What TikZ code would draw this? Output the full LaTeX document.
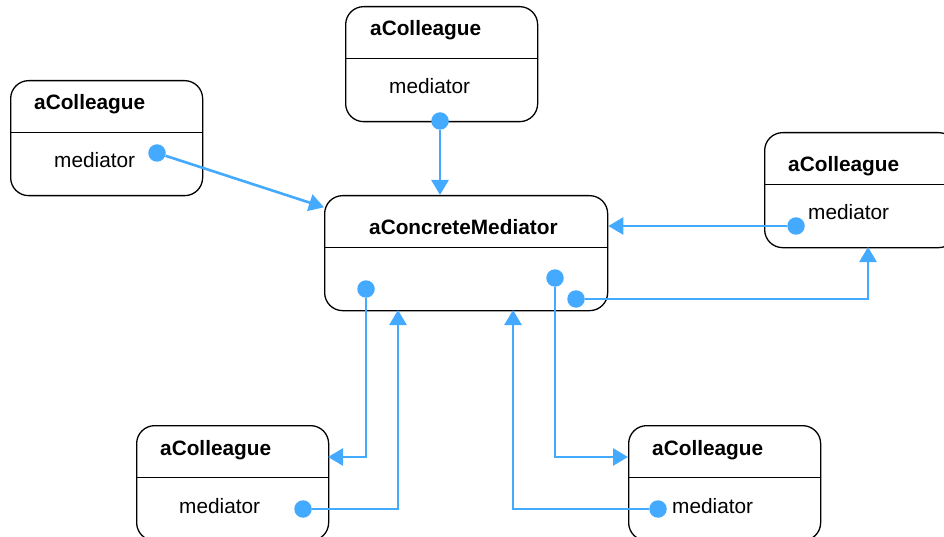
\documentclass[tikz,border=0pt]{standalone}
\usepackage{fontspec}
\setmainfont{Liberation Sans}
\usetikzlibrary{arrows.meta}
\definecolor{linkblue}{RGB}{68,170,255}
\begin{document}
\begin{tikzpicture}[x=1pt,y=-1pt,
  box/.style={draw=black, line width=1.3pt, rounded corners=18pt,
    minimum width=192pt, minimum height=115pt, anchor=north west, inner sep=0},
  lbl/.style={anchor=base west, inner sep=0, font=\fontsize{20.8}{25}\selectfont},
  ttl/.style={anchor=base west, inner sep=0, font=\fontsize{20.8}{25}\selectfont\bfseries},
  dot/.style={circle, fill=linkblue, inner sep=0, minimum size=17.5pt},
  link/.style={draw=linkblue, line width=2.6pt, -{Triangle[length=15pt,width=17pt]}},
]
\useasboundingbox (0,0) rectangle (944,537);
\clip (0,0) rectangle (944,537);

% object boxes
\node[box] (A)  at (10,80)   {};
\node[box] (B)  at (345,6)   {};
\node[box, minimum width=283pt] (M) at (324,195) {};
\node[box] (R)  at (764,132) {};
\node[box] (BL) at (136,425) {};
\node[box] (BR) at (628,425) {};

% compartment dividers
\foreach \b in {A,B,M,R,BL,BR}
  \draw[line width=1.3pt] ([yshift=-52.5pt]\b.north west) -- ([yshift=-52.5pt]\b.north east);

% labels
\node[ttl] (At)  at (34,110)  {aColleague};
\node[lbl] (Am)  at (54,168)  {mediator};
\node[ttl] (Bt)  at (370,36)  {aColleague};
\node[lbl] (Bm)  at (389,94)  {mediator};
\node[ttl] (Mt)  at (369,235) {aConcreteMediator};
\node[ttl] (Rt)  at (788,172) {aColleague};
\node[lbl] (Rm)  at (808,220) {mediator};
\node[ttl] (BLt) at (160,455) {aColleague};
\node[lbl] (BLm) at (179,513) {mediator};
\node[ttl] (BRt) at (652,455) {aColleague};
\node[lbl] (BRm) at (672,513) {mediator};

% reference handles
\node[dot] (Ad)  at (157,153) {};
\node[dot] (Bd)  at (440,121) {};
\node[dot] (Rd)  at (796,226) {};
\node[dot] (Md1) at (366,289) {};
\node[dot] (Md2) at (555,278) {};
\node[dot] (Md3) at (576,299) {};
\node[dot] (BLd) at (303,509) {};
\node[dot] (BRd) at (658,509) {};

% entry points on the box borders
\coordinate (RIn)  at (868,247);
\coordinate (BLIn) at (328,457);
\coordinate (BRIn) at (628,457);
\coordinate (MIn1) at (398,310);
\coordinate (MIn2) at (513,310);

% references
\draw[link] (Ad) -- (M);
\draw[link] (Bd) -- (Bd |- M.north);
\draw[link] (Rd) -- (Rd -| M.east);
\draw[link] (Md3) -| (RIn);
\draw[link] (Md1) |- (BLIn);
\draw[link] (BLd) -| (MIn1);
\draw[link] (Md2) |- (BRIn);
\draw[link] (BRd) -| (MIn2);
\end{tikzpicture}
\end{document}
